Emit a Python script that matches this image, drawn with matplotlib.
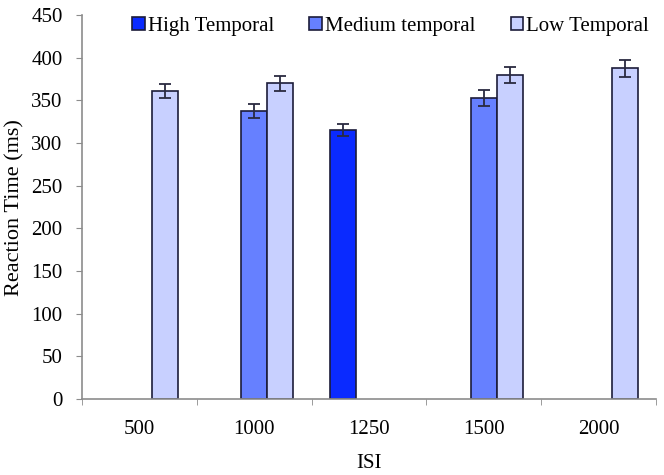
import matplotlib.pyplot as plt
import numpy as np

plt.rcParams['font.family'] = ['Liberation Serif', 'DejaVu Serif']

# data
isi_labels = ['500', '1000', '1250', '1500', '2000']
series_names = ['High Temporal', 'Medium temporal', 'Low Temporal']
high_rt = [np.nan, np.nan, 315, np.nan, np.nan]
high_err = [np.nan, np.nan, 7, np.nan, np.nan]
medium_rt = [np.nan, 338, np.nan, 353, np.nan]
medium_err = [np.nan, 8, np.nan, 9, np.nan]
low_rt = [361, 370, np.nan, 380, 388]
low_err = [8.5, 9, np.nan, 9.5, 10]

colors = ['#0a2aff', '#6680ff', '#c8d0ff']
edge = '#1c1c3a'
axis_grey = '#8c8c8c'

fig = plt.figure(figsize=(6.64, 4.75), dpi=100)
ax = fig.add_axes([0.1235, 0.16, 0.8645, 0.808])

x = np.arange(len(isi_labels))
w = 0.227
offsets = [-w, 0, w]
values = [high_rt, medium_rt, low_rt]
errors = [high_err, medium_err, low_err]

for name, vals, errs, off, col in zip(series_names, values, errors, offsets, colors):
    ax.bar(x + off, vals, width=w, color=col, edgecolor=edge, linewidth=1.2,
           label=name, zorder=2)
    ax.errorbar(x + off, vals, yerr=errs, fmt='none', ecolor='#2a2a40',
                elinewidth=1.3, capsize=4, capthick=1.3, zorder=3)

ax.set_xlim(-0.5, len(isi_labels) - 0.5)
ax.set_ylim(0, 450)
ax.set_yticks(range(0, 451, 50))
ax.set_xticks(x)
ax.set_xticklabels(isi_labels)
ax.set_xticks(np.arange(-0.5, len(isi_labels), 1.0), minor=True)
ax.tick_params(axis='x', which='major', length=0, pad=15, labelsize=15)
ax.tick_params(axis='x', which='minor', length=4, color=axis_grey, direction='out')
ax.tick_params(axis='y', length=4, color=axis_grey, direction='out', labelsize=15, pad=10)

for side in ['top', 'right']:
    ax.spines[side].set_visible(False)
for side in ['left', 'bottom']:
    ax.spines[side].set_color(axis_grey)
    ax.spines[side].set_linewidth(1.2)

ax.set_xlabel('ISI', fontsize=15, labelpad=11)
ax.set_ylabel('Reaction Time (ms)', fontsize=16, labelpad=5)

ax.legend(loc='center left', bbox_to_anchor=(132 / 664, 0.945),
          bbox_transform=fig.transFigure, ncol=3, frameon=False,
          fontsize=15, handlelength=0.6, handleheight=0.6, handletextpad=0.15,
          columnspacing=1.7, borderpad=0, borderaxespad=0)

fig.savefig('out.png', dpi=100)
